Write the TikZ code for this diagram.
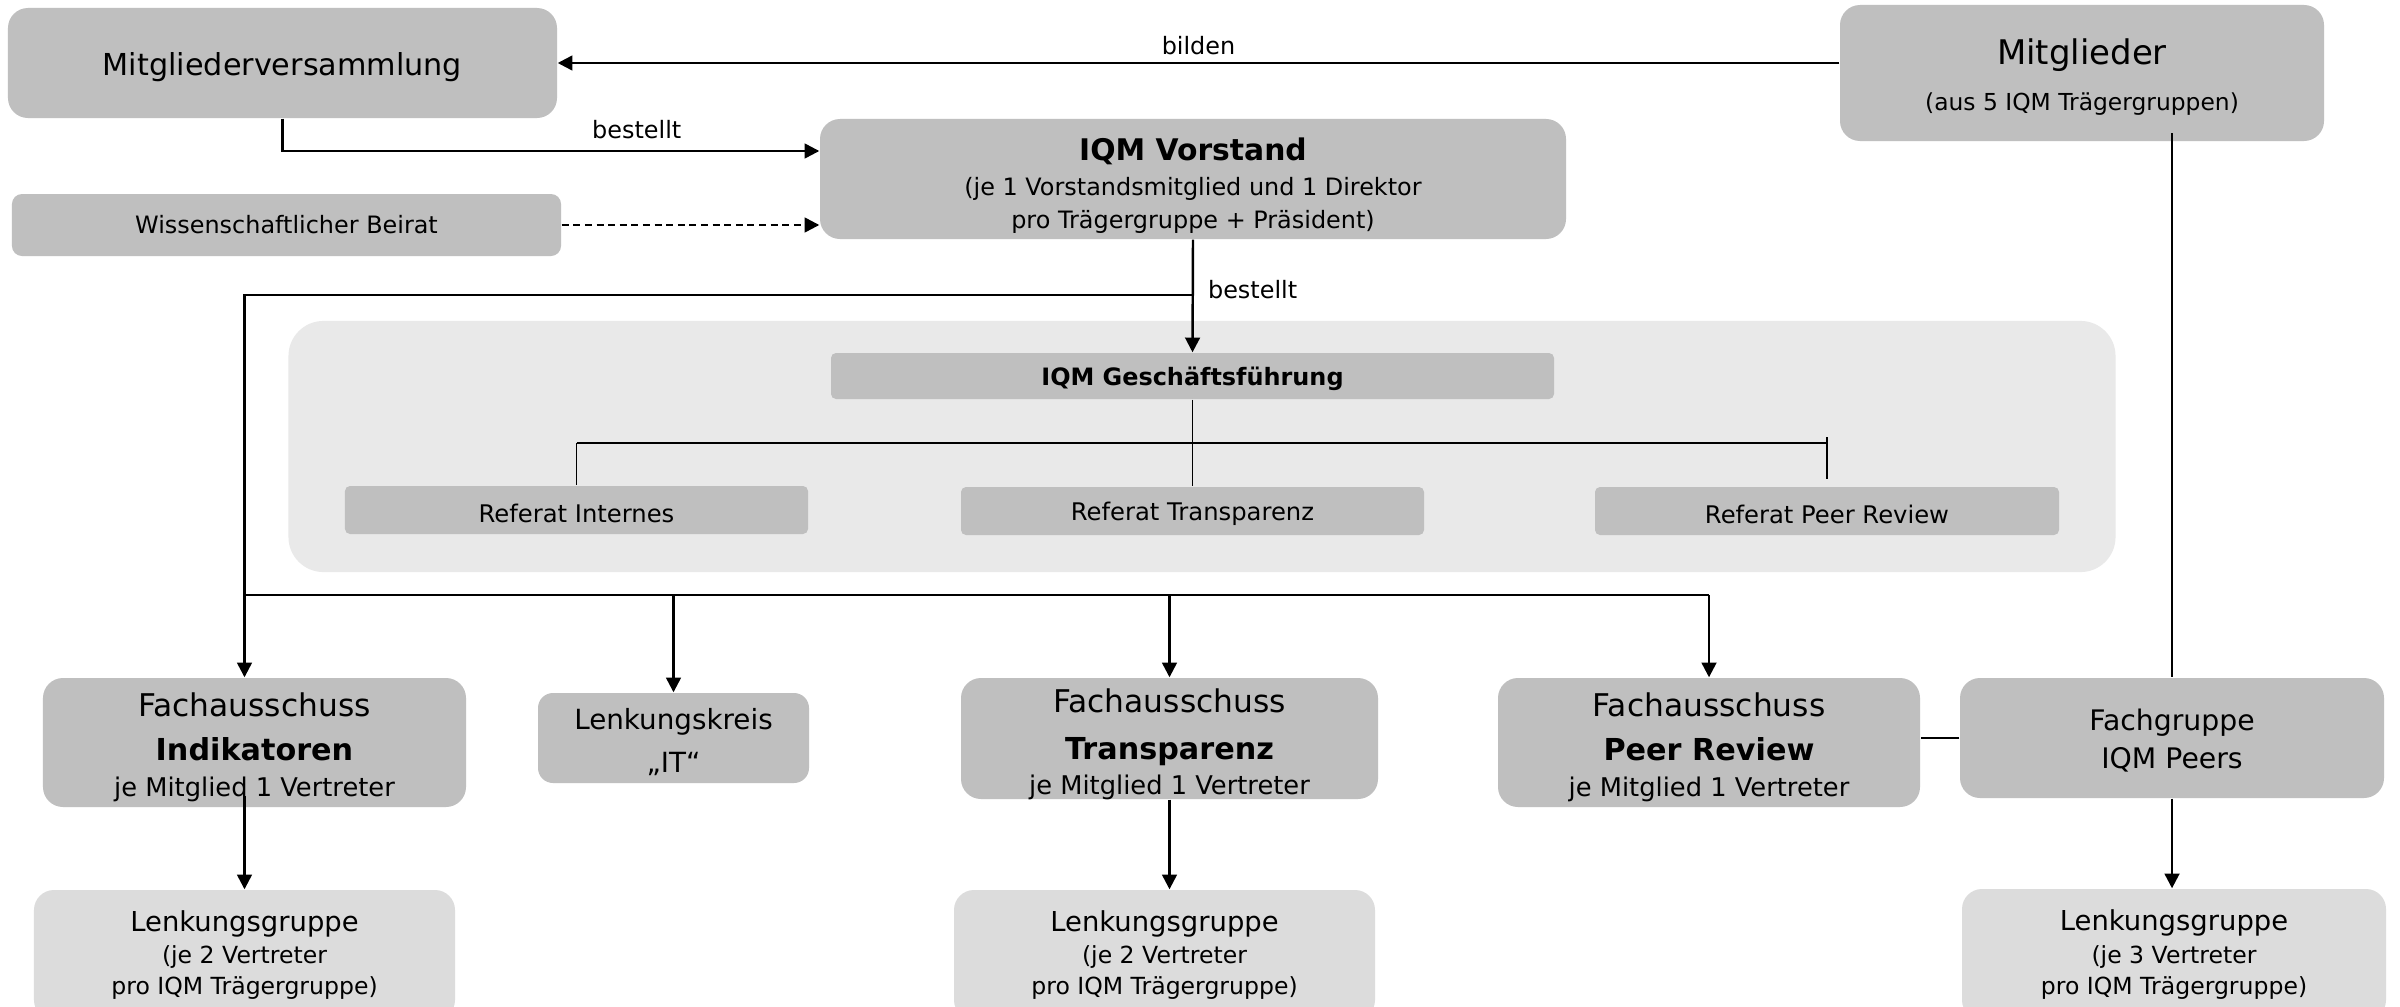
\documentclass[tikz,border=0pt]{standalone}
\usepackage{fontspec}
\setmainfont{DejaVu Sans}
\usetikzlibrary{arrows.meta}
\newcommand\fsz[2]{\fontsize{#1}{#2}\selectfont}
\definecolor{boxgray}{HTML}{BFBFBF}
\definecolor{lightgray}{HTML}{DCDCDC}
\definecolor{bggray}{HTML}{E9E9E9}
% #1 box style, #2 name, #3-#6 corners (px), #7 text shift down (px), #8 text style, #9 text
\newcommand\boxnode[9]{%
  \pgfmathsetmacro\myBW{(#5-#3)*0.01}%
  \pgfmathsetmacro\myBH{(#6-#4)*0.01}%
  \pgfmathsetmacro\myDY{-(#7)*0.01}%
  \node[#1, minimum width=\myBW cm, minimum height=\myBH cm] (#2) at ({(#3+#5)/2},{(#4+#6)/2}) {};
  \node[base, #8] (#2-t) at ([yshift=\myDY cm]#2.center) {#9};}
\tikzset{
  base/.style={inner sep=0pt, align=center, text=black},
  gbox/.style={base, fill=boxgray, rounded corners=0.2cm},
  lbox/.style={base, fill=lightgray, rounded corners=0.2cm},
  sbox/.style={base, fill=boxgray, rounded corners=0.05cm},
  arr/.style={line width=0.7pt, -{Triangle[length=4.2pt,width=4.2pt]}},
  conn/.style={line width=0.7pt},
  thinl/.style={line width=0.45pt},
  lbl/.style={inner sep=1pt, font=\fsz{6.8}{8}}
}
\begin{document}
\begin{tikzpicture}[x=0.01cm,y=-0.01cm]
\clip (0,0) rectangle (2400,1006);
\fill[white] (0,0) rectangle (2400,1006);
% background region
\node[base, fill=bggray, rounded corners=0.35cm, minimum width=18.26cm, minimum height=2.51cm] (gfbg) at (1202,446.5) {};
% top row
\boxnode{gbox}{mv}{8}{8}{557}{118}{4}{font=\fsz{8.6}{10}}{Mitgliederversammlung}
\boxnode{gbox}{mitgl}{1840}{5}{2324}{141}{4.5}{font=\fsz{9.65}{13.1}}{Mitglieder\\{\fsz{6.65}{13.1}(aus 5 IQM Trägergruppen)}}
\boxnode{gbox}{vorstand}{820}{119}{1566}{239}{7}{font=\fsz{6.8}{9.4}}{{\bfseries\fsz{8.47}{9.4}IQM Vorstand}\\[0.55pt](je 1 Vorstandsmitglied und 1 Direktor\\pro Trägergruppe + Präsident)}
\boxnode{gbox, rounded corners=0.1cm}{beirat}{12}{194}{561}{256}{0}{font=\fsz{6.8}{8}}{Wissenschaftlicher Beirat}
% Geschaeftsfuehrung
\boxnode{sbox}{gf}{831}{353}{1554}{399}{3}{font=\bfseries\fsz{6.8}{8}}{IQM Geschäftsführung}
\boxnode{sbox}{refi}{345}{486}{808}{534}{3}{font=\fsz{6.9}{8}}{Referat Internes}
\boxnode{sbox}{reft}{961}{487}{1424}{535}{3}{font=\fsz{6.9}{8}}{Referat Transparenz}
\boxnode{sbox}{refp}{1595}{487}{2059}{535}{3}{font=\fsz{6.9}{8}}{Referat Peer Review}
% committees
\boxnode{gbox}{indik}{43}{678}{466}{807}{5}{font=\fsz{8.9}{10.2}}{Fachausschuss\\[2.2pt]{\bfseries\fsz{8.6}{10.2}Indikatoren}\\{\fsz{7.32}{10.2}je Mitglied 1 Vertreter}}
\boxnode{gbox, rounded corners=0.15cm}{lk}{538}{693}{809}{783}{4}{font=\fsz{7.9}{12.2}}{Lenkungskreis\\„IT“}
\boxnode{gbox}{transp}{961}{678}{1378}{799}{6}{font=\fsz{8.9}{9.9}}{Fachausschuss\\[3.5pt]{\bfseries\fsz{8.6}{9.9}Transparenz}\\{\fsz{7.32}{9.9}je Mitglied 1 Vertreter}}
\boxnode{gbox}{peer}{1498}{678}{1920}{807}{5}{font=\fsz{8.9}{10.2}}{Fachausschuss\\[2.2pt]{\bfseries\fsz{8.6}{10.2}Peer Review}\\{\fsz{7.32}{10.2}je Mitglied 1 Vertreter}}
\boxnode{gbox}{fg}{1960}{678}{2384}{798}{3}{font=\fsz{8.05}{10.8}}{Fachgruppe\\IQM Peers}
% steering groups
\boxnode{lbox}{lg1}{34}{890}{455}{1020}{0}{font=\fsz{7.8}{8.8}}{Lenkungsgruppe\\[0.4pt]{\fsz{6.7}{8.8}(je 2 Vertreter}\\{\fsz{6.7}{8.8}pro IQM Trägergruppe)}}
\boxnode{lbox}{lg2}{954}{890}{1375}{1020}{0}{font=\fsz{7.8}{8.8}}{Lenkungsgruppe\\[0.4pt]{\fsz{6.7}{8.8}(je 2 Vertreter}\\{\fsz{6.7}{8.8}pro IQM Trägergruppe)}}
\boxnode{lbox}{lg3}{1962}{889}{2386}{1020}{0}{font=\fsz{7.8}{8.8}}{Lenkungsgruppe\\[0.4pt]{\fsz{6.7}{8.8}(je 3 Vertreter}\\{\fsz{6.7}{8.8}pro IQM Trägergruppe)}}
% connectors
\draw[arr] (mv.east -| mitgl.west) -- (mv.east) node[lbl, midway, above=1pt] {bilden};
\draw[arr] (mv.south) |- (vorstand.west |- 0,151) node[lbl, pos=0.83, above=2pt] {bestellt};
\draw[arr, dashed, dash pattern=on 2pt off 1.3pt] (beirat.east) -- (beirat.east -| vorstand.west);
\draw[arr] (vorstand.south) -- (gf.north) node[lbl, pos=0.44, right=3pt] {bestellt};
\coordinate (j1) at (vorstand.south |- 0,295);
\draw[arr] (j1) -| (lg1.north |- indik.north);
\draw[conn] (lg1.north |- 0,595) -- (peer.north |- 0,595);
\draw[arr] (lk.north |- 0,595) -- (lk.north);
\draw[arr] (transp.north |- 0,595) -- (transp.north);
\draw[arr] (peer.north |- 0,595) -- (peer.north);
\draw[arr] (lg1.north |- 0,796) -- (lg1.north);
\draw[arr] (transp.south) -- (transp.south |- lg2.north);
\draw[arr] (fg.south) -- (fg.south |- lg3.north);
\draw[thinl] (fg.north |- 0,133) -- (fg.north);
\draw[thinl] (fg.west) -- (fg.west -| peer.east);
% Geschaeftsfuehrung internal
\draw[thinl] (gf.south) -- (reft.north);
\draw[line width=0.6pt] (refi.north |- 0,443) -- (refp.north |- 0,443);
\draw[thinl] (refi.north |- 0,443) -- (refi.north);
\draw[thinl] (refp.north |- 0,437) -- (refp.north |- 0,479);
\end{tikzpicture}
\end{document}
